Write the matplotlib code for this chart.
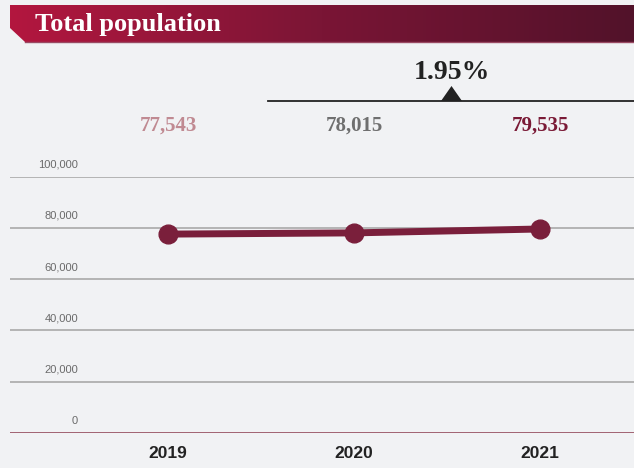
import numpy as np
import matplotlib
matplotlib.use('Agg')
import matplotlib.pyplot as plt
from matplotlib.patches import Polygon
from matplotlib.transforms import ScaledTranslation, blended_transform_factory

years = [2019, 2020, 2021]
population = [77543, 78015, 79535]
value_labels = ['77,543', '78,015', '79,535']
value_colors = ['#c08a92', '#6f6f6f', '#7a1a36']
change_label = '1.95%'
y_ticks = [0, 20000, 40000, 60000, 80000, 100000]
y_tick_labels = ['0', '20,000', '40,000', '60,000', '80,000', '100,000']

W, H = 634, 468
bg = '#f1f2f4'
line_color = '#7a1f3b'

fig = plt.figure(figsize=(W / 100, H / 100), dpi=100)
fig.patch.set_facecolor(bg)

# overlay in pixel coordinates for the header
over = fig.add_axes([0, 0, 1, 1], zorder=0)
over.set_xlim(0, W)
over.set_ylim(H, 0)
over.axis('off')

# banner with gradient and a cut corner
banner = Polygon([(10, 5), (W, 5), (W, 42), (25, 42), (10, 28)], closed=True,
                 facecolor='none', edgecolor='none')
over.add_patch(banner)
grad = np.linspace(0, 1, 256).reshape(1, -1)
cmap = matplotlib.colors.LinearSegmentedColormap.from_list(
    'banner', ['#b3173f', '#7a1535', '#52122a'])
img = over.imshow(grad, cmap=cmap, extent=(10, W, 42, 5), aspect='auto')
img.set_clip_path(banner)
over.plot([25, W], [42, 42], color='#9a4a63', lw=1)
over.text(35, 24.5, 'Total population', color='white', fontsize=19,
          fontweight='bold', family='Liberation Serif', va='center', ha='left')

# change indicator
over.plot([268, W], [101, 101], color='#222222', lw=1.3)
over.add_patch(Polygon([(441, 101), (462, 101), (451.5, 86)], closed=True,
                       facecolor='#222222', edgecolor='none'))
over.text(451.5, 79, change_label, fontsize=20, fontweight='bold',
          family='Liberation Serif', color='#222222', ha='center', va='baseline')

# chart axes: 0 at y=433 px, 100,000 at y=176.5 px
px_per_year = 186
x0, x_left = 168, 10
ax = fig.add_axes([x_left / W, 1 - 433 / H, 1 - x_left / W, (433 - 176.5) / H], zorder=1)
ax.patch.set_alpha(0)
ax.set_xlim(years[0] - (x0 - x_left) / px_per_year, years[0] + (W - x0) / px_per_year)
ax.set_ylim(0, 100000)
for s in ax.spines.values():
    s.set_visible(False)

for t in y_ticks[1:]:
    ax.axhline(t, color='#a9a9a9', lw=1.2, zorder=1)
ax.axhline(0, color='#9a5566', lw=2, zorder=1)

# y labels sit above their gridlines, right-aligned
lab_tr = blended_transform_factory(fig.transFigure, ax.transData) + \
    ScaledTranslation(0, 5 / 72, fig.dpi_scale_trans)
for t, lab in zip(y_ticks, y_tick_labels):
    ax.text(78 / W, t, lab, transform=lab_tr, ha='right', va='bottom',
            fontsize=8, color='#6a6a6a', family='Liberation Sans')

ax.plot(years, population, color=line_color, lw=5, marker='o', markersize=13.5,
        solid_capstyle='round', zorder=3, clip_on=False)

ax.set_yticks([])
ax.set_xticks(years)
ax.set_xticklabels([str(y) for y in years], fontsize=12.5, fontweight='bold',
                   family='Liberation Sans', color='#222222')
ax.tick_params(axis='x', length=0, pad=9)

# population values above each year
val_tr = blended_transform_factory(ax.transData, over.transData)
for yr, lab, c in zip(years, value_labels, value_colors):
    over.text(yr, 131, lab, transform=val_tr, ha='center', va='baseline',
              fontsize=15, fontweight='bold', family='Liberation Serif', color=c)

fig.savefig('out.png', dpi=100, facecolor=bg)
